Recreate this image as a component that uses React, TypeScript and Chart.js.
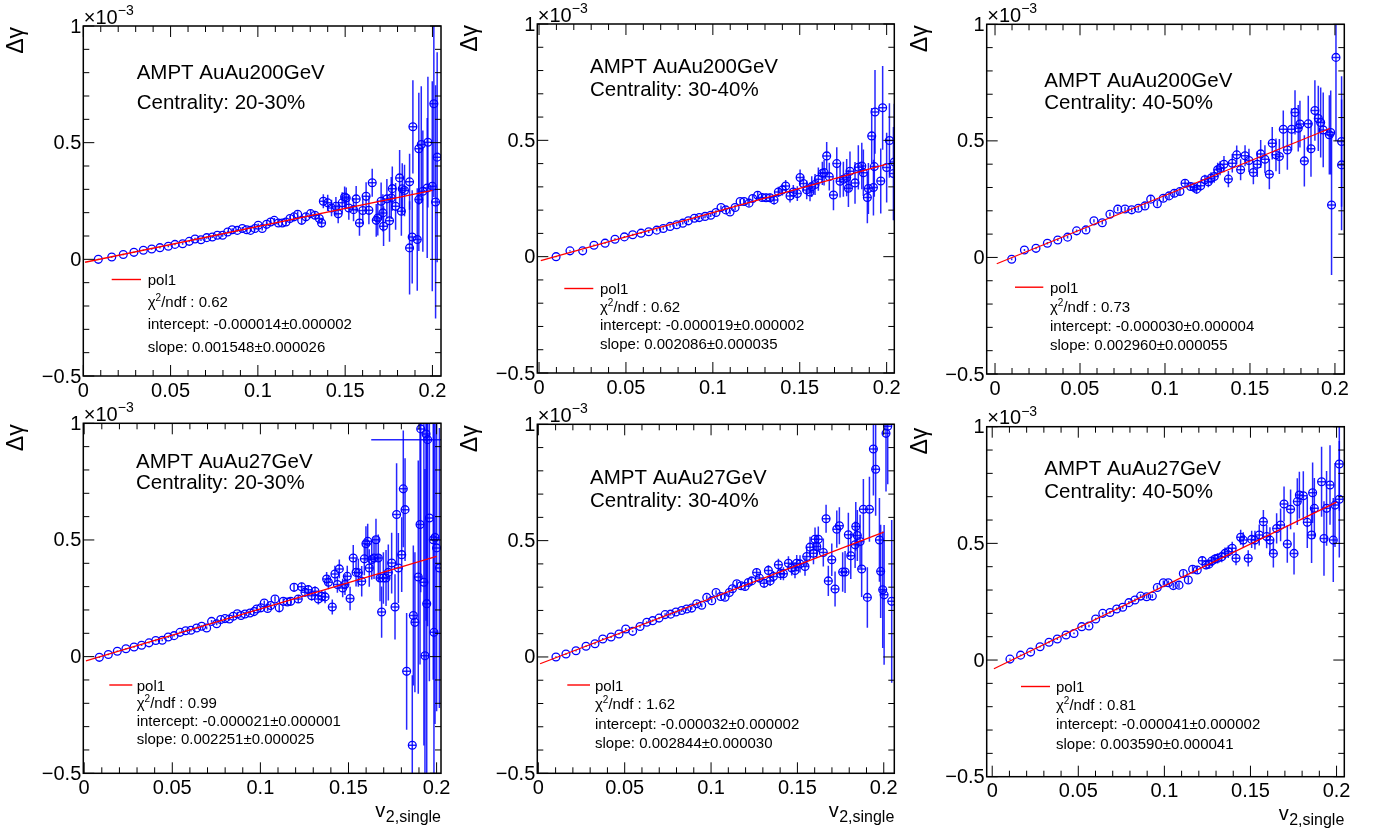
import React, { useEffect, useRef } from "react";
import { Chart, registerables } from "chart.js";

Chart.register(...registerables);

const W = 1383;
const H = 836;
const FONT = '"Liberation Sans", Arial, Helvetica, sans-serif';

// ---------------- axis ticks ----------------
const yMajorTicks = [-0.5, 0, 0.5, 1];
const yMajorLabels = ["\u22120.5", "0", "0.5", "1"];
const yMinorTicks = [-0.4, -0.3, -0.2, -0.1, 0.1, 0.2, 0.3, 0.4, 0.6, 0.7, 0.8, 0.9];
const xMajorTicks = [0, 0.05, 0.1, 0.15, 0.2];
const xMajorLabels = ["0", "0.05", "0.1", "0.15", "0.2"];
const xMinorTicks = [0.01, 0.02, 0.03, 0.04, 0.06, 0.07, 0.08, 0.09, 0.11, 0.12, 0.13, 0.14, 0.16, 0.17, 0.18, 0.19];

// ---------------- texts ----------------
const energyLabels = ["AMPT AuAu200GeV", "AMPT AuAu200GeV", "AMPT AuAu200GeV", "AMPT AuAu27GeV", "AMPT AuAu27GeV", "AMPT AuAu27GeV"];
const centralityLabels = ["Centrality: 20-30%", "Centrality: 30-40%", "Centrality: 40-50%", "Centrality: 20-30%", "Centrality: 30-40%", "Centrality: 40-50%"];
const chi2Values = ["0.62", "0.62", "0.73", "0.99", "1.62", "0.81"];
const interceptLabels = ["-0.000014\u00b10.000002", "-0.000019\u00b10.000002", "-0.000030\u00b10.000004", "-0.000021\u00b10.000001", "-0.000032\u00b10.000002", "-0.000041\u00b10.000002"];
const slopeLabels = ["0.001548\u00b10.000026", "0.002086\u00b10.000035", "0.002960\u00b10.000055", "0.002251\u00b10.000025", "0.002844\u00b10.000030", "0.003590\u00b10.000041"];
const yTitle = "\u0394\u03b3";
const xTitleMain = "v";
const xTitleSub = "2,single";

// ---------------- data (values in units of 1e-3) ----------------
// Panel 1: AuAu200GeV 20-30%
const p1X = [0.0086, 0.0163, 0.0229, 0.029, 0.0344, 0.0392, 0.0439, 0.0487, 0.0525, 0.0569, 0.0607, 0.064, 0.0674, 0.0707, 0.0739, 0.0768, 0.0798, 0.0827, 0.0853, 0.0882, 0.0911, 0.0936, 0.0958, 0.0983, 0.1002, 0.1025, 0.105, 0.1073, 0.1094, 0.1117, 0.114, 0.1161, 0.1184, 0.1207, 0.1228, 0.1251, 0.1275, 0.1302, 0.1327, 0.1352, 0.1365,
  0.1375, 0.14, 0.1422, 0.1447, 0.146, 0.1483, 0.1497, 0.1506, 0.1521, 0.1548, 0.1563, 0.1582, 0.1601, 0.162, 0.1636, 0.1655, 0.1678, 0.1687, 0.1706, 0.1716, 0.172, 0.1739, 0.1754, 0.1764, 0.177, 0.1789, 0.1812, 0.1822, 0.1827, 0.184, 0.1869, 0.1869, 0.1888, 0.1884, 0.1913, 0.1922, 0.1922, 0.1936, 0.1945, 0.1974, 0.197, 0.1999, 0.2008, 0.2018, 0.2027];
const p1Y = [0.0, 0.01, 0.021, 0.03, 0.039, 0.044, 0.05, 0.056, 0.064, 0.067, 0.077, 0.087, 0.084, 0.093, 0.096, 0.103, 0.103, 0.117, 0.127, 0.124, 0.132, 0.127, 0.124, 0.132, 0.146, 0.132, 0.15, 0.16, 0.167, 0.156, 0.156, 0.16, 0.175, 0.182, 0.193, 0.167, 0.182, 0.196, 0.189, 0.175, 0.156,
  0.249, 0.242, 0.22, 0.227, 0.195, 0.242, 0.267, 0.263, 0.22, 0.213, 0.259, 0.156, 0.209, 0.27, 0.21, 0.328, 0.167, 0.177, 0.249, 0.199, 0.142, 0.259, 0.165, 0.263, 0.303, 0.227, 0.349, 0.206, 0.302, 0.295, 0.332, 0.049, 0.568, 0.096, 0.085, 0.256, 0.474, 0.492, 0.292, 0.502, 0.306, 0.313, 0.667, 0.246, 0.438];
const p1E = [0.003, 0.003, 0.003, 0.003, 0.003, 0.003, 0.004, 0.004, 0.004, 0.004, 0.004, 0.005, 0.005, 0.005, 0.005, 0.005, 0.006, 0.006, 0.006, 0.006, 0.007, 0.007, 0.007, 0.008, 0.008, 0.008, 0.009, 0.009, 0.01, 0.01, 0.011, 0.011, 0.012, 0.012, 0.013, 0.014, 0.015, 0.016, 0.017, 0.018, 0.02,
  0.03, 0.035, 0.035, 0.04, 0.04, 0.045, 0.045, 0.045, 0.05, 0.05, 0.055, 0.055, 0.06, 0.06, 0.06, 0.06, 0.07, 0.075, 0.08, 0.08, 0.085, 0.085, 0.09, 0.09, 0.095, 0.1, 0.12, 0.105, 0.11, 0.11, 0.12, 0.2, 0.2, 0.2, 0.22, 0.22, 0.24, 0.25, 0.26, 0.28, 0.3, 0.45, 0.4, 0.5, 0.45];
const p1FitX = [0.001, 0.2];
const p1FitY = [-0.0125, 0.2956];

// Panel 2: AuAu200GeV 30-40%
const p2X = [0.0098, 0.0178, 0.0251, 0.0316, 0.038, 0.0437, 0.0491, 0.0539, 0.0587, 0.0631, 0.0677, 0.0715, 0.0754, 0.0792, 0.0827, 0.0859, 0.0894, 0.0922, 0.0955, 0.0988, 0.1018, 0.1047, 0.1074, 0.1099, 0.1128, 0.1157, 0.118, 0.1208, 0.1229, 0.1258, 0.1283, 0.1306, 0.1329, 0.1352, 0.1377, 0.14, 0.1419, 0.1444, 0.1463, 0.1486, 0.1502, 0.1521, 0.154, 0.1559, 0.1569, 0.1588, 0.1607, 0.163, 0.164, 0.1655, 0.167, 0.1694, 0.1713, 0.1732, 0.1751, 0.177, 0.178, 0.1789, 0.1818, 0.1837, 0.1857, 0.1866, 0.1889, 0.1895, 0.1914, 0.1924, 0.1929, 0.1933, 0.1966, 0.1977, 0.2, 0.2016, 0.2039, 0.2044];
const p2Y = [0.0, 0.025, 0.025, 0.049, 0.058, 0.075, 0.085, 0.094, 0.101, 0.107, 0.114, 0.121, 0.13, 0.137, 0.144, 0.154, 0.165, 0.168, 0.173, 0.178, 0.19, 0.211, 0.201, 0.192, 0.211, 0.237, 0.237, 0.23, 0.25, 0.264, 0.254, 0.253, 0.253, 0.244, 0.278, 0.287, 0.304, 0.261, 0.278, 0.271, 0.34, 0.314, 0.287, 0.278, 0.301, 0.31, 0.333, 0.358, 0.361, 0.433, 0.344, 0.265, 0.4, 0.324, 0.333, 0.34, 0.294, 0.367, 0.317, 0.384, 0.39, 0.361, 0.254, 0.293, 0.519, 0.297, 0.387, 0.622, 0.325, 0.64, 0.383, 0.499, 0.357, 0.407];
const p2E = [0.003, 0.003, 0.003, 0.003, 0.003, 0.004, 0.004, 0.004, 0.004, 0.005, 0.005, 0.005, 0.005, 0.006, 0.006, 0.006, 0.007, 0.007, 0.008, 0.008, 0.009, 0.009, 0.01, 0.01, 0.011, 0.012, 0.013, 0.014, 0.015, 0.016, 0.017, 0.018, 0.019, 0.02, 0.022, 0.024, 0.026, 0.028, 0.03, 0.032, 0.035, 0.035, 0.04, 0.04, 0.045, 0.045, 0.05, 0.05, 0.055, 0.06, 0.06, 0.065, 0.07, 0.07, 0.075, 0.08, 0.08, 0.085, 0.09, 0.095, 0.1, 0.1, 0.11, 0.11, 0.12, 0.12, 0.13, 0.18, 0.14, 0.18, 0.15, 0.16, 0.2, 0.25];
const p2FitX = [0.001, 0.2];
const p2FitY = [-0.0169, 0.3982];

// Panel 3: AuAu200GeV 40-50%
const p3X = [0.0098, 0.0173, 0.0241, 0.0308, 0.0369, 0.0427, 0.048, 0.0535, 0.0582, 0.0631, 0.0676, 0.0722, 0.0765, 0.0804, 0.0843, 0.0882, 0.0916, 0.0955, 0.099, 0.1024, 0.1055, 0.1088, 0.1118, 0.1151, 0.1171, 0.1186, 0.121, 0.1235, 0.1255, 0.1271, 0.129, 0.131, 0.1324, 0.1347, 0.1373, 0.1396, 0.1422, 0.1445, 0.1471, 0.1494, 0.152, 0.1543, 0.1563, 0.1588, 0.1614, 0.1631, 0.1653, 0.1673, 0.1696, 0.172, 0.1745, 0.1765, 0.1784, 0.1794, 0.182, 0.1843, 0.1859, 0.1882, 0.1902, 0.1916, 0.1931, 0.1967, 0.1975, 0.198, 0.2006, 0.2039, 0.2039];
const p3Y = [-0.008, 0.032, 0.039, 0.061, 0.075, 0.087, 0.114, 0.118, 0.157, 0.149, 0.185, 0.207, 0.208, 0.204, 0.211, 0.221, 0.25, 0.23, 0.254, 0.264, 0.275, 0.283, 0.318, 0.304, 0.301, 0.293, 0.307, 0.333, 0.325, 0.34, 0.347, 0.376, 0.383, 0.4, 0.336, 0.404, 0.44, 0.376, 0.436, 0.416, 0.364, 0.4, 0.444, 0.421, 0.357, 0.49, 0.44, 0.433, 0.55, 0.461, 0.55, 0.622, 0.554, 0.572, 0.414, 0.573, 0.466, 0.63, 0.596, 0.579, 0.547, 0.526, 0.536, 0.225, 0.858, 0.497, 0.397];
const p3E = [0.004, 0.004, 0.004, 0.005, 0.005, 0.006, 0.006, 0.007, 0.007, 0.008, 0.008, 0.009, 0.009, 0.01, 0.01, 0.011, 0.012, 0.012, 0.013, 0.014, 0.015, 0.016, 0.017, 0.018, 0.019, 0.02, 0.021, 0.022, 0.024, 0.025, 0.027, 0.03, 0.03, 0.035, 0.035, 0.04, 0.04, 0.045, 0.045, 0.05, 0.05, 0.055, 0.06, 0.06, 0.065, 0.07, 0.07, 0.075, 0.08, 0.085, 0.09, 0.095, 0.1, 0.1, 0.11, 0.12, 0.12, 0.13, 0.14, 0.15, 0.16, 0.17, 0.18, 0.3, 0.36, 0.28, 0.28];
const p3FitX = [0.001, 0.197];
const p3FitY = [-0.027, 0.553];

// Panel 4: AuAu27GeV 20-30%
const p4X = [0.0086, 0.0137, 0.0188, 0.0237, 0.0283, 0.0326, 0.0368, 0.0406, 0.0443, 0.0477,
  0.051, 0.0544, 0.0576, 0.0606, 0.0638, 0.0667, 0.0695, 0.0723, 0.0752, 0.0775,
  0.0799, 0.0824, 0.0846, 0.0869, 0.089, 0.0913, 0.0941, 0.0964, 0.0979, 0.1003,
  0.1022, 0.1041, 0.1058, 0.1083, 0.1107, 0.113, 0.1153, 0.1172, 0.1191, 0.1215,
  0.1234, 0.1253, 0.1272, 0.1291, 0.131, 0.1329, 0.1348, 0.1367, 0.1376, 0.1386,
  0.1408, 0.1423, 0.1437, 0.1448, 0.1467, 0.148, 0.1493, 0.1509, 0.1527, 0.1543,
  0.1556, 0.1575, 0.159, 0.1599, 0.1609, 0.1618, 0.1632, 0.1645, 0.1656, 0.1669,
  0.1679, 0.1688, 0.1698, 0.1713, 0.1726, 0.1745, 0.1764, 0.1773, 0.1783, 0.1802,
  0.1811, 0.1821, 0.183, 0.1862, 0.1868, 0.1877, 0.1896, 0.1906, 0.191, 0.1928,
  0.1934, 0.194, 0.1944, 0.1949, 0.1959, 0.1981, 0.1985, 0.1991, 0.2, 0.2016];
const p4Y = [-0.003, 0.009, 0.023, 0.034, 0.041, 0.049, 0.059, 0.069, 0.07, 0.084,
  0.09, 0.104, 0.111, 0.113, 0.123, 0.13, 0.123, 0.151, 0.141, 0.159,
  0.163, 0.161, 0.173, 0.184, 0.176, 0.183, 0.187, 0.193, 0.204, 0.209,
  0.23, 0.206, 0.219, 0.247, 0.209, 0.237, 0.234, 0.237, 0.297, 0.247,
  0.299, 0.276, 0.287, 0.261, 0.28, 0.247, 0.259, 0.256, 0.333, 0.319,
  0.213, 0.354, 0.309, 0.376, 0.294, 0.309, 0.344, 0.249, 0.423, 0.361,
  0.359, 0.323, 0.419, 0.484, 0.494, 0.38, 0.416, 0.423, 0.501, 0.423,
  0.337, 0.191, 0.337, 0.337, 0.361, 0.401, 0.213, 0.609, 0.38, 0.437,
  0.719, 0.63, -0.063, -0.38, 0.176, 0.147, 0.341, 0.566, 0.976, 0.319,
  0.004, 0.954, 0.227, 0.93, 0.594, 0.501, 0.104, 0.511, 0.466, 0.38];
const p4E = [0.003, 0.003, 0.003, 0.003, 0.003, 0.003, 0.003, 0.004, 0.004, 0.004,
  0.004, 0.004, 0.005, 0.005, 0.005, 0.005, 0.006, 0.006, 0.006, 0.006,
  0.007, 0.007, 0.007, 0.008, 0.008, 0.008, 0.009, 0.009, 0.01, 0.01,
  0.011, 0.011, 0.012, 0.012, 0.013, 0.013, 0.014, 0.015, 0.016, 0.017,
  0.018, 0.019, 0.02, 0.021, 0.022, 0.024, 0.025, 0.027, 0.03, 0.03,
  0.032, 0.035, 0.035, 0.04, 0.04, 0.045, 0.045, 0.05, 0.055, 0.06,
  0.06, 0.065, 0.07, 0.075, 0.075, 0.08, 0.085, 0.09, 0.09, 0.1,
  0.1, 0.11, 0.11, 0.12, 0.12, 0.13, 0.14, 0.22, 0.15, 0.16,
  0.25, 0.22, 0.25, 0.3, 0.3, 0.3, 0.5, 0.6, 0.7, 0.7,
  0.8, 0.8, 0.9, 0.8, 0.7, 0.6, 0.9, 0.8, 0.7, 0.6];
const p4FitX = [0.001, 0.2];
const p4FitY = [-0.0187, 0.4292];
// one point with a wide horizontal error bar
const p4WideX = [0.1949];
const p4WideY = [0.93];
const p4WideXErr = [0.032];

// Panel 5: AuAu27GeV 30-40%
const p5X = [0.0102, 0.016, 0.0218, 0.0276, 0.0328, 0.0373, 0.0421, 0.0467, 0.0506, 0.0546,
  0.0589, 0.0628, 0.0662, 0.0699, 0.0734, 0.0766, 0.0797, 0.083, 0.0859, 0.0888,
  0.0917, 0.0946, 0.0975, 0.1004, 0.1029, 0.1056, 0.1081, 0.1106, 0.1124, 0.1149,
  0.1174, 0.1197, 0.1216, 0.1235, 0.1264, 0.128, 0.1307, 0.1332, 0.1342, 0.1361,
  0.139, 0.1403, 0.1419, 0.1448, 0.1467, 0.1486, 0.1496, 0.1515, 0.1544, 0.1554,
  0.1573, 0.1593, 0.1602, 0.1612, 0.1621, 0.165, 0.1666, 0.1679, 0.1699, 0.1718,
  0.1728, 0.1743, 0.1762, 0.1776, 0.1795, 0.1809, 0.1834, 0.1838, 0.1847, 0.1863,
  0.1872, 0.1882, 0.1905, 0.1917, 0.194, 0.1953, 0.1975, 0.1982, 0.1994, 0.2002,
  0.2013, 0.2023, 0.2046];
const p5Y = [0.0, 0.013, 0.027, 0.046, 0.057, 0.077, 0.086, 0.099, 0.12, 0.11,
  0.131, 0.149, 0.156, 0.167, 0.182, 0.184, 0.193, 0.2, 0.206, 0.21,
  0.229, 0.222, 0.256, 0.242, 0.277, 0.26, 0.257, 0.277, 0.293, 0.315,
  0.306, 0.303, 0.32, 0.327, 0.363, 0.339, 0.317, 0.372, 0.327, 0.346,
  0.396, 0.358, 0.358, 0.403, 0.382, 0.372, 0.403, 0.4, 0.389, 0.432,
  0.472, 0.446, 0.506, 0.475, 0.506, 0.449, 0.594, 0.327, 0.418, 0.292,
  0.549, 0.564, 0.365, 0.365, 0.525, 0.435, 0.482, 0.561, 0.522, 0.496,
  0.378, 0.635, 0.256, 0.635, 0.894, 0.807, 0.503, 0.368, 0.289, 0.267,
  0.961, 0.992, 0.239];
const p5E = [0.003, 0.003, 0.003, 0.003, 0.003, 0.004, 0.004, 0.004, 0.004, 0.004,
  0.005, 0.005, 0.005, 0.005, 0.006, 0.006, 0.006, 0.007, 0.007, 0.007,
  0.008, 0.008, 0.009, 0.009, 0.01, 0.01, 0.011, 0.011, 0.012, 0.013,
  0.014, 0.014, 0.015, 0.016, 0.018, 0.018, 0.02, 0.022, 0.022, 0.024,
  0.026, 0.027, 0.028, 0.03, 0.032, 0.034, 0.035, 0.037, 0.04, 0.042,
  0.045, 0.047, 0.05, 0.05, 0.055, 0.06, 0.06, 0.065, 0.07, 0.075,
  0.08, 0.08, 0.085, 0.09, 0.095, 0.1, 0.1, 0.105, 0.11, 0.115,
  0.12, 0.13, 0.13, 0.14, 0.2, 0.2, 0.18, 0.2, 0.25, 0.3,
  0.25, 0.25, 0.35];
const p5FitX = [0.001, 0.2];
const p5FitY = [-0.0292, 0.5368];

// Panel 6: AuAu27GeV 40-50%
const p6X = [0.0103, 0.0165, 0.0223, 0.0278, 0.033, 0.0378, 0.0429, 0.0475, 0.052, 0.0562,
  0.0601, 0.0642, 0.0684, 0.0723, 0.0758, 0.0794, 0.0829, 0.0862, 0.0897, 0.093,
  0.0959, 0.0994, 0.1023, 0.1052, 0.1085, 0.111, 0.1139, 0.1164, 0.1191, 0.122,
  0.1242, 0.1259, 0.1275, 0.1294, 0.1309, 0.1333, 0.1352, 0.1371, 0.1394, 0.1416,
  0.1443, 0.1458, 0.1487, 0.1507, 0.1526, 0.1551, 0.1575, 0.1594, 0.1613, 0.1633,
  0.1652, 0.1675, 0.1695, 0.1714, 0.1733, 0.1753, 0.1772, 0.1784, 0.1807, 0.183,
  0.1855, 0.1861, 0.1871, 0.1913, 0.1927, 0.1942, 0.1962, 0.1981, 0.1991, 0.2016, 0.2016];
const p6Y = [0.004, 0.021, 0.034, 0.057, 0.076, 0.09, 0.107, 0.114, 0.143, 0.146,
  0.176, 0.2, 0.204, 0.219, 0.226, 0.246, 0.257, 0.274, 0.271, 0.274,
  0.311, 0.331, 0.331, 0.319, 0.321, 0.371, 0.343, 0.389, 0.386, 0.426,
  0.407, 0.411, 0.424, 0.433, 0.436, 0.443, 0.457, 0.464, 0.479, 0.436,
  0.526, 0.514, 0.436, 0.517, 0.514, 0.536, 0.593, 0.529, 0.514, 0.457,
  0.564, 0.579, 0.669, 0.497, 0.646, 0.457, 0.679, 0.707, 0.704, 0.59,
  0.536, 0.717, 0.65, 0.764, 0.521, 0.65, 0.75, 0.514, 0.664, 0.84, 0.689];
const p6E = [0.003, 0.003, 0.003, 0.003, 0.004, 0.004, 0.004, 0.004, 0.005, 0.005,
  0.005, 0.005, 0.006, 0.006, 0.006, 0.007, 0.007, 0.008, 0.008, 0.008,
  0.009, 0.01, 0.01, 0.011, 0.012, 0.013, 0.014, 0.015, 0.016, 0.017,
  0.018, 0.019, 0.02, 0.021, 0.022, 0.024, 0.025, 0.027, 0.028, 0.03,
  0.032, 0.034, 0.035, 0.037, 0.04, 0.045, 0.05, 0.05, 0.055, 0.06,
  0.065, 0.07, 0.075, 0.08, 0.085, 0.09, 0.1, 0.1, 0.105, 0.11,
  0.12, 0.13, 0.13, 0.15, 0.16, 0.16, 0.17, 0.18, 0.18, 0.2, 0.25];
const p6FitX = [0.001, 0.2];
const p6FitY = [-0.0374, 0.677];

// ---------------- layout (pixels) ----------------
type Frame = { left: number; top: number; right: number; bottom: number };
type PanelDef = {
  idx: number;
  frame: Frame;
  xMin: number;
  xMax: number;
  xs: number[];
  ys: number[];
  es: number[];
  fitX: number[];
  fitY: number[];
  text: { x: number; y1: number; y2: number };
  legend: { lx1: number; lx2: number; tx: number; rows: number[] };
  showXTitle: boolean;
  wide?: { x: number[]; y: number[]; xe: number[] };
};

const panels: PanelDef[] = [
  {
    idx: 0, frame: { left: 83.3, top: 26, right: 441, bottom: 376 }, xMin: 0, xMax: 0.2049,
    xs: p1X, ys: p1Y, es: p1E, fitX: p1FitX, fitY: p1FitY,
    text: { x: 136.7, y1: 79.3, y2: 109 },
    legend: { lx1: 111.7, lx2: 141, tx: 147.7, rows: [285, 306.7, 329, 352.3] },
    showXTitle: false,
  },
  {
    idx: 1, frame: { left: 537.3, top: 24, right: 894.3, bottom: 373 }, xMin: -0.001, xMax: 0.2044,
    xs: p2X, ys: p2Y, es: p2E, fitX: p2FitX, fitY: p2FitY,
    text: { x: 590, y1: 72.7, y2: 95.7 },
    legend: { lx1: 564.3, lx2: 593.3, tx: 600, rows: [294, 311.5, 330.3, 348.5] },
    showXTitle: false,
  },
  {
    idx: 2, frame: { left: 986.7, top: 24.3, right: 1344.3, bottom: 374 }, xMin: -0.0049, xMax: 0.2055,
    xs: p3X, ys: p3Y, es: p3E, fitX: p3FitX, fitY: p3FitY,
    text: { x: 1044.3, y1: 87.3, y2: 109.3 },
    legend: { lx1: 1015, lx2: 1043.3, tx: 1050, rows: [292.7, 311.5, 331, 350] },
    showXTitle: false,
  },
  {
    idx: 3, frame: { left: 83.3, top: 423.3, right: 441, bottom: 773.3 }, xMin: -0.0005, xMax: 0.2025,
    xs: p4X, ys: p4Y, es: p4E, fitX: p4FitX, fitY: p4FitY,
    text: { x: 136, y1: 468.3, y2: 489.3 },
    legend: { lx1: 109.3, lx2: 132.3, tx: 136.7, rows: [690.5, 708, 726, 744.3] },
    showXTitle: true,
    wide: { x: p4WideX, y: p4WideY, xe: p4WideXErr },
  },
  {
    idx: 4, frame: { left: 537.3, top: 424.3, right: 894.3, bottom: 773.3 }, xMin: -0.0006, xMax: 0.2061,
    xs: p5X, ys: p5Y, es: p5E, fitX: p5FitX, fitY: p5FitY,
    text: { x: 590, y1: 484, y2: 507.3 },
    legend: { lx1: 567.3, lx2: 590, tx: 595, rows: [690.5, 709.3, 728.5, 747.5] },
    showXTitle: true,
  },
  {
    idx: 5, frame: { left: 986.7, top: 426.7, right: 1344.3, bottom: 776.7 }, xMin: -0.0032, xMax: 0.2045,
    xs: p6X, ys: p6Y, es: p6E, fitX: p6FitX, fitY: p6FitY,
    text: { x: 1044.3, y1: 475, y2: 498.3 },
    legend: { lx1: 1021, lx2: 1050, tx: 1056, rows: [692, 710.3, 729.3, 748.5] },
    showXTitle: true,
  },
];

const MARKER_R = 3.9;
const BLUE = "#0000ff";
const ERR_BLUE = "rgba(0,0,255,0.85)";

function line(ctx: CanvasRenderingContext2D, x1: number, y1: number, x2: number, y2: number) {
  ctx.beginPath();
  ctx.moveTo(x1, y1);
  ctx.lineTo(x2, y2);
  ctx.stroke();
}

function makePlugin(p: PanelDef) {
  return {
    id: "rootPanel" + p.idx,
    beforeDatasetsDraw(chart: any) {
      const { ctx, chartArea: a } = chart;
      const xs = chart.scales.x;
      const ys = chart.scales.y;
      ctx.save();
      ctx.beginPath();
      ctx.rect(a.left, a.top, a.right - a.left, a.bottom - a.top);
      ctx.clip();
      ctx.strokeStyle = ERR_BLUE;
      ctx.lineWidth = 1.5;
      p.xs.forEach((xv, i) => {
        const px = xs.getPixelForValue(xv);
        const py = ys.getPixelForValue(p.ys[i]);
        const pTop = ys.getPixelForValue(p.ys[i] + p.es[i]);
        const pBot = ys.getPixelForValue(p.ys[i] - p.es[i]);
        line(ctx, px, pTop, px, pBot);
        if (pBot - pTop > 2 * MARKER_R) {
          line(ctx, px - MARKER_R, py, px + MARKER_R, py);
        }
      });
      if (p.wide) {
        p.wide.x.forEach((xv, i) => {
          const py = ys.getPixelForValue(p.wide!.y[i]);
          line(ctx, xs.getPixelForValue(xv - p.wide!.xe[i]), py, xs.getPixelForValue(xv + p.wide!.xe[i]), py);
        });
      }
      ctx.restore();
    },
    afterDraw(chart: any) {
      const { ctx, chartArea: a } = chart;
      const xs = chart.scales.x;
      const ys = chart.scales.y;
      ctx.save();
      // frame
      ctx.strokeStyle = "#000";
      ctx.lineWidth = 1.5;
      ctx.strokeRect(a.left, a.top, a.right - a.left, a.bottom - a.top);
      // ticks
      ctx.lineWidth = 1;
      yMajorTicks.forEach((v) => {
        const py = ys.getPixelForValue(v);
        line(ctx, a.left, py, a.left + 11, py);
        line(ctx, a.right, py, a.right - 11, py);
      });
      yMinorTicks.forEach((v) => {
        const py = ys.getPixelForValue(v);
        line(ctx, a.left, py, a.left + 6, py);
        line(ctx, a.right, py, a.right - 6, py);
      });
      xMajorTicks.forEach((v) => {
        const px = xs.getPixelForValue(v);
        line(ctx, px, a.bottom, px, a.bottom - 11);
        line(ctx, px, a.top, px, a.top + 11);
      });
      xMinorTicks.forEach((v) => {
        const px = xs.getPixelForValue(v);
        line(ctx, px, a.bottom, px, a.bottom - 6);
        line(ctx, px, a.top, px, a.top + 6);
      });
      // tick labels
      ctx.fillStyle = "#000";
      ctx.font = `20px ${FONT}`;
      ctx.textAlign = "right";
      ctx.textBaseline = "middle";
      yMajorTicks.forEach((v, i) => {
        ctx.fillText(yMajorLabels[i], a.left - 2, ys.getPixelForValue(v) + 1);
      });
      ctx.textAlign = "center";
      ctx.textBaseline = "alphabetic";
      xMajorTicks.forEach((v, i) => {
        ctx.fillText(xMajorLabels[i], xs.getPixelForValue(v), a.bottom + 20.5);
      });
      // exponent
      ctx.textAlign = "left";
      ctx.font = `20px ${FONT}`;
      ctx.fillText("\u00d710", a.left + 0.5, a.top - 2.5);
      const w10 = ctx.measureText("\u00d710").width;
      ctx.font = `14px ${FONT}`;
      ctx.fillText("\u22123", a.left + 0.5 + w10, a.top - 11);
      // y title
      ctx.save();
      ctx.font = `23px ${FONT}`;
      ctx.translate(a.left - 60, a.top + 1);
      ctx.rotate(-Math.PI / 2);
      ctx.textAlign = "right";
      ctx.textBaseline = "alphabetic";
      ctx.fillText(yTitle, 0, 0);
      ctx.restore();
      // x title
      if (p.showXTitle) {
        ctx.font = `16px ${FONT}`;
        ctx.textAlign = "right";
        ctx.fillText(xTitleSub, a.right, a.bottom + 48.7);
        const ws = ctx.measureText(xTitleSub).width;
        ctx.font = `20px ${FONT}`;
        ctx.fillText(xTitleMain, a.right - ws - 0.5, a.bottom + 43.4);
      }
      // annotations
      ctx.textAlign = "left";
      ctx.font = `20.5px ${FONT}`;
      ctx.fillText(energyLabels[p.idx], p.text.x, p.text.y1);
      ctx.fillText(centralityLabels[p.idx], p.text.x, p.text.y2);
      // fit legend
      const L = p.legend;
      ctx.strokeStyle = "#ff0000";
      ctx.lineWidth = 1.4;
      line(ctx, L.lx1, L.rows[0] - 5.5, L.lx2, L.rows[0] - 5.5);
      ctx.font = `15px ${FONT}`;
      ctx.fillText("pol1", L.tx, L.rows[0]);
      ctx.fillText("\u03c7", L.tx, L.rows[1]);
      const wc = ctx.measureText("\u03c7").width;
      ctx.font = `10px ${FONT}`;
      ctx.fillText("2", L.tx + wc, L.rows[1] - 6);
      const w2 = ctx.measureText("2").width;
      ctx.font = `15px ${FONT}`;
      ctx.fillText("/ndf : " + chi2Values[p.idx], L.tx + wc + w2, L.rows[1]);
      ctx.fillText("intercept: " + interceptLabels[p.idx], L.tx, L.rows[2]);
      ctx.fillText("slope: " + slopeLabels[p.idx], L.tx, L.rows[3]);
      ctx.restore();
    },
  };
}

function PanelChart({ p }: { p: PanelDef }) {
  const ref = useRef<HTMLCanvasElement>(null);
  useEffect(() => {
    const canvas = ref.current;
    if (!canvas) return;
    const points = p.xs.map((x, i) => ({ x, y: p.ys[i] }));
    const fit = p.fitX.map((x, i) => ({ x, y: p.fitY[i] }));
    const chart = new Chart(canvas, {
      type: "scatter",
      data: {
        datasets: [
          {
            type: "line",
            data: fit,
            borderColor: "#ff0000",
            borderWidth: 1.3,
            pointRadius: 0,
            showLine: true,
            fill: false,
            order: 0,
          } as any,
          {
            type: "scatter",
            data: points,
            pointStyle: "circle",
            pointRadius: MARKER_R,
            borderColor: BLUE,
            borderWidth: 1.3,
            backgroundColor: "rgba(0,0,0,0)",
            order: 1,
          } as any,
        ],
      },
      options: {
        responsive: false,
        animation: false,
        devicePixelRatio: 1,
        events: [],
        layout: {
          padding: {
            left: p.frame.left,
            top: p.frame.top,
            right: W - p.frame.right,
            bottom: H - p.frame.bottom,
          },
        },
        scales: {
          x: { type: "linear", min: p.xMin, max: p.xMax, display: false },
          y: { type: "linear", min: -0.5, max: 1, display: false },
        },
        plugins: { legend: { display: false }, tooltip: { enabled: false } },
      } as any,
      plugins: [makePlugin(p) as any],
    });
    return () => chart.destroy();
  }, [p]);
  return (
    <canvas
      ref={ref}
      width={W}
      height={H}
      style={{ position: "absolute", left: 0, top: 0, width: W, height: H }}
    />
  );
}

export default function App() {
  return (
    <div style={{ position: "fixed", left: 0, top: 0, width: W, height: H, background: "#ffffff", overflow: "hidden" }}>
      {panels.map((p) => (
        <PanelChart key={p.idx} p={p} />
      ))}
    </div>
  );
}
